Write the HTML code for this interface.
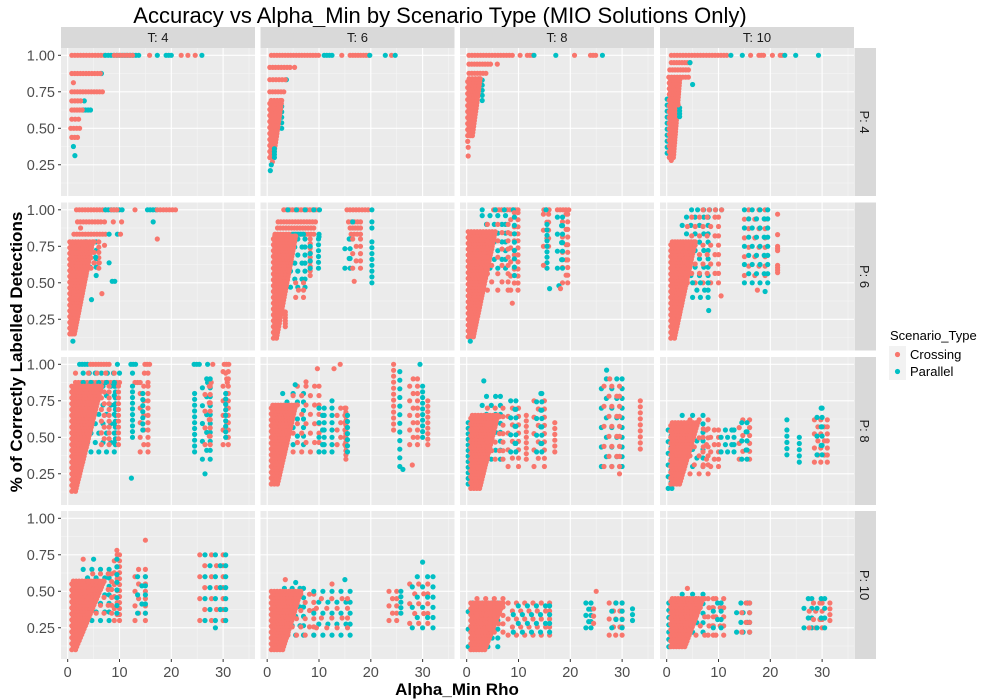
<!DOCTYPE html>
<html><head><meta charset="utf-8"><style>
html,body{margin:0;padding:0;background:#fff;}
svg{display:block;font-family:"Liberation Sans",Arial,sans-serif;}
</style></head><body>
<svg id="chart" width="1000" height="700" viewBox="0 0 1000 700" xmlns="http://www.w3.org/2000/svg">
<rect width="1000" height="700" fill="#fff"/>
<text x="440" y="23" font-size="22" text-anchor="middle" fill="#000">Accuracy vs Alpha_Min by Scenario Type (MIO Solutions Only)</text>
<text transform="translate(22,352) rotate(-90)" font-size="17" font-weight="bold" text-anchor="middle" fill="#000">% of Correctly Labelled Detections</text>
<text x="457" y="695" font-size="17" font-weight="bold" text-anchor="middle" fill="#000">Alpha_Min Rho</text>
<g id="panels"></g>
<g>
<text x="890" y="340" font-size="13" fill="#000">Scenario_Type</text>
<g>
<rect x="889" y="346" width="17" height="17" fill="#F2F2F2"/>
<circle cx="897.5" cy="354.5" r="2.6" fill="#F8766D"/>
<text x="910" y="359" font-size="13" fill="#000">Crossing</text></g>
<g>
<rect x="889" y="363" width="17" height="17" fill="#F2F2F2"/>
<circle cx="897.5" cy="371.5" r="2.6" fill="#00BFC4"/>
<text x="910" y="376" font-size="13" fill="#000">Parallel</text></g>
</g>
</svg>
<script>
const colsT = [4, 6, 8, 10];
const rowsP = [4, 6, 8, 10];
const xTicks = [0, 10, 20, 30];
const xMinor = [5, 15, 25, 35];
const yTicks = [0.25, 0.5, 0.75, 1.0];
const yTickLabels = ["0.25", "0.50", "0.75", "1.00"];
const yMinor = [0.125, 0.375, 0.625, 0.875];
const seriesNames = ["Crossing", "Parallel"];
// entries: [x0, x1, y0, y1, seriesIndex, sparsity, x1AtBottom]
const p4t4 = [[0.8,7,1,1,0],[7.3,13.7,1,1,1],[9,12.5,1,1,0],[15.8,15.8,1,1,0],[17.3,17.3,1,1,1],[19,20,1,1,1],[21.9,21.9,1,1,0],[23.2,23.2,1,1,0],[24.6,24.6,1,1,0],[25.9,25.9,1,1,1],
[6.5,6.5,.875,.875,1],[0.8,6.3,.875,.875,0],[1.1,1.1,.8125,.8125,0],[0.8,6.7,.75,.75,0],[3.2,3.2,.6875,.6875,1],[0.8,2.5,.6875,.6875,0],[3,4.4,.625,.625,1],[0.8,2.8,.625,.625,0],[0.8,2.1,.5625,.5625,0],[0.6,2.3,.5,.5,0],[0.8,1.9,.4375,.4375,0],[1.1,1.1,.375,.375,1],[1.4,1.4,.3125,.3125,1]];
const p4t6 = [[0.8,9.9,1,1,0],[11,12.5,1,1,1],[14.4,14.4,1,1,0],[16,19.6,1,1,0],[19.8,19.8,1,1,1],[22.8,22.8,1,1,1],[24,24,1,1,0],[24.7,24.7,1,1,1],
[0.5,4.4,.917,.917,0],[5.3,5.3,.917,.917,0],[3.7,3.7,.833,.833,1],[0.5,3.5,.833,.833,0],[0.5,3.2,.75,.75,0],[2.8,2.8,.5,.65,1,2],[0.5,2.8,.3,.69,0,1,1.2],[1.4,1.4,.3,.36,1],[1,1,.27,.27,0],[0.8,0.8,.25,.25,1],[0.6,0.6,.21,.21,1]];
const p4t8 = [[0.45,8.8,1,1,0],[10.3,10.3,1,1,0],[11.7,12.7,1,1,0],[13,13,1,1,1],[17.2,17.2,1,1,1],[20.8,20.8,1,1,0],[23.9,24.9,1,1,0],[26.2,26.2,1,1,1],
[0.45,4.6,.94,.94,0],[5.9,5.9,.94,.94,0],[0.45,3.7,.877,.877,0],[3,3,.69,.83,1,2],[0.2,2.6,.45,.84,0,1,1.1],[0.2,0.2,.41,.41,0],[0.3,0.3,.31,.31,0],[0.3,0.3,.37,.37,0]];
const p4t10 = [[0.9,11.6,1,1,0],[12.4,12.4,1,1,1],[14.6,14.6,1,1,1],[16.2,16.2,1,1,0],[17.8,18.7,1,1,0],[20.4,20.4,1,1,0],[21.9,22.3,1,1,0],[22.8,22.8,1,1,1],[24.9,24.9,1,1,1],[29.3,29.3,1,1,1],
[0.9,4.5,.95,.95,0],[4.5,4.5,.95,.95,1],[0.6,4.2,.9,.9,0],[0.4,4.2,.85,.85,0],[5,5,.8,.8,1],[0.1,0.3,.33,.7,1,2],[0.5,2.5,.3,.83,0,1,1.3],[2.5,2.5,.58,.64,1],[2.2,2.2,.66,.66,0],[0.9,0.9,.28,.28,0]];
const p6t4 = [[1.7,7.3,1,1,0],[7.3,10.5,1,1,1],[8.5,9.5,1,1,0],[13,13,1,1,0],[15.4,17,1,1,1],[17.3,20.8,1,1,0],
[1.9,6.4,.917,.917,0],[7.1,7.1,.917,.917,0],[8.8,8.8,.917,.917,0],[10.4,10.4,.917,.917,0],[16.5,16.5,.917,.917,1],[2.5,2.5,.875,.875,0],
[1.2,7.3,.833,.833,0],[8,8,.833,.833,1],[9.6,9.6,.833,.833,1],[10.2,10.2,.833,.833,0],[17.3,17.3,.80,.80,0],
[3.5,5.5,.55,.78,1,3],[0.4,4.8,.15,.78,0,1,1.3],[1,1,.1,.1,1],[4.5,6,.6,.78,0,2],
[7.1,7.1,.757,.757,0],[8,8,.637,.637,1],[6.1,6.1,.637,.637,0],[8.6,9.1,.51,.51,1],[6.6,6.6,.426,.426,0],[4.6,4.6,.385,.385,1],[5.4,5.4,.675,.675,1]];
const p6t6 = [[3.2,9.9,1,1,0],[4,9,1,1,1,3],[10.1,10.1,1,1,1],[15.4,19.5,1,1,0],[20.2,20.2,1,1,1],
[2.1,9.3,.917,.917,0],[15.7,18,.917,.917,0],[16.5,16.5,.917,.917,1],[20.2,20.2,.917,.917,1],
[2,9,.875,.875,0],[16,18,.875,.875,0],[20.2,20.2,.875,.875,1],
[1.5,9,.833,.833,0],[5,7,.833,.833,1],[10,10,.815,.833,1],[16.2,18,.833,.833,0],
[4.5,7.3,.47,.8,1,3],[1.2,5.5,.12,.82,0,1,1.8],[8.3,8.3,.55,.8,0,1.5],[8.3,8.3,.6,.75,1,3],[9.9,9.9,.6,.8,1,2],
[15,16,.6,.8,1,3],[16.5,18,.6,.8,0,2.5],[20.2,20.2,.5,.78,1,2],[16.8,16.8,.51,.51,0],[5.5,7,.4,.5,0,2],[3.5,3.5,.2,.3,0]];
const p6t8 = [[3,3,1,1,1],[5.2,9.9,1,1,0],[5.5,9,1,1,1,3],[14.9,15.9,1,1,0],[15.3,15.3,1,1,1],[17.5,19.7,1,1,0],
[3,7.5,.6,.96,1,3],[0.3,5.5,.13,.85,0,1,1.3],[0.7,0.7,.1,.1,1],[4,8,.45,.9,0,3],
[8.5,9.9,.45,.98,0,2.5],[9.2,9.9,.55,.95,1,3],[8.8,8.8,.36,.36,0],
[14.8,15.8,.75,.97,0,2.5],[15.5,15.5,.6,.9,1,2],[14.8,14.8,.62,.62,0],[16,16,.46,.46,1],
[18.5,19.5,.5,.97,0,2.5],[17.5,18.5,.6,.95,1,3],[17.8,17.8,.48,.48,1],[18.1,18.1,.46,.46,0]];
const p6t10 = [[4.8,10.6,1,1,1,2],[7,10.6,1,1,0,2],
[3,8,.55,.95,1,3],[0.8,5.5,.12,.78,0,1,1.5],[4,10,.5,.95,0,3],[5,8,.4,.5,1,3],
[15,19,.55,1,0,3],[15,19.5,.5,1,1,3],[21.4,21.4,.97,.97,0],[21.4,21.4,.83,.83,0],[21.4,21.4,.72,.75,0],[21.4,21.4,.57,.62,0],
[10.5,10.5,.41,.41,0],[8.1,8.1,.31,.31,1],[17.5,17.5,.45,.45,0],[19,19,.44,.44,1]];
const p8t4 = [[2.3,3.8,1,1,1],[4.4,8,1,1,0],[9.6,9.6,1,1,1],[12.2,13.1,1,1,1],[14.9,15.8,1,1,0],[24.4,25.4,1,1,1],[27,27,1,1,1],[28,28,1,1,0],[30.2,31.1,1,1,0],
[1.5,1.5,.94,.94,0],[3,10,.94,.94,1,2],[4,9,.94,.94,0,3],[12.5,12.5,.94,.94,1],[14.8,15.5,.94,.94,0],[30.5,30.5,.94,.94,0],
[1.5,10,.875,.875,0],[3,9,.875,.875,1,3],[13,14,.875,.875,0],[15.5,15.5,.875,.875,0],[27,27,.875,.875,1],[27.7,27.7,.875,.875,0],[30.8,30.8,.875,.875,0],
[3,9,.4,.85,1,3],[0.8,6.5,.13,.85,0,1,1.5],[6.5,8,.45,.85,0,2],
[9.2,9.2,.45,.85,1,2],[9.8,9.8,.45,.85,0,2],[12.5,12.5,.5,.85,1,2],[12.3,12.3,.22,.22,1],[14,15.5,.4,.85,0,2.5],[14.5,14.5,.55,.8,1,2],
[24.5,24.5,.4,.8,1,2],[26,27.5,.35,.9,1,3],[26.5,27.5,.45,.85,0,3],[30,31,.45,.95,0,2.5],[30.5,30.5,.5,.8,1,2],[26.5,26.5,.25,.25,1]];
const p8t6 = [[3,7,.45,.8,1,3],[0.8,5.5,.18,.72,0,1,2],[5,10,.4,.85,0,3],
[10,11,.4,.7,1,2.5],[12.5,13,.4,.75,1,2.5],[13.5,15,.45,.7,0,2.5],[15.2,15.2,.35,.7,0,1.5],[15.5,15.5,.4,.65,1,2],
[9.7,9.7,.97,.97,0],[12.9,12.9,.97,.97,0],[14.1,14.1,1,1,0],[5.4,5.4,.86,.86,1],[7.5,7.5,.88,.88,0],
[24.4,24.4,.55,1,0,2],[25.6,26.2,.3,.95,1,3],[27.5,29,.45,.9,0,2.5],[30,30,.5,.85,1,2],[31,31,.45,.75,0,2],[26.2,26.2,.28,.28,1],[28,28,.31,.31,0],[29.5,29.5,1,1,1]];
const p8t8 = [[0.3,0.8,.18,.6,1,2],[3,6.5,.35,.78,1,3],[0.8,6,.15,.65,0,1,2.5],[4,7,.35,.7,0,3],
[8,10,.3,.7,0,3],[8.5,9.5,.4,.75,1,3],[11.5,11.5,.35,.65,0,2],[13,15,.3,.75,0,3],[13.5,14.5,.4,.8,1,3],[17,17,.4,.6,0,2],
[26,30,.3,.9,1,3.5],[26.5,29.5,.3,.85,0,3.5],[33.5,33.5,.42,.75,0,2],[3.3,3.3,.886,.886,1],[27,27,.96,.96,1],[27.6,27.6,.9,.9,0],[29.5,29.5,.25,.25,0]];
const p8t10 = [[0.3,1,.15,.55,1,2],[3,7,.3,.65,1,3],[0.8,6,.18,.6,0,1,2.5],[4.5,8,.25,.62,0,3],
[7,10,.3,.55,0,2.5],[10.5,13,.4,.55,1,3],[14,16,.35,.62,0,2.5],[14.5,15.5,.35,.6,1,3],
[23.2,23.2,.38,.55,1,2],[23.2,23.2,.62,.62,1],[25.6,25.6,.33,.5,1,2],[28.5,31,.33,.62,0,2.5],[29,30,.38,.7,1,3]];
const p10t4 = [[3,8,.3,.65,1,3],[0.8,7,.1,.57,0,1,1.5],[4,8.5,.35,.62,0,3],
[9,10,.3,.75,0,2],[9.5,10,.35,.72,1,2.5],[13,15,.3,.65,0,2.5],[13.5,15,.35,.6,1,3],[15,15,.85,.85,0],[9.5,9.5,.78,.78,0],
[25.5,30,.3,.75,0,3.5],[26.5,30.5,.3,.75,1,3.5],[3,3,.72,.72,0],[5,5,.72,.72,1],[28.5,28.5,.25,.25,1]];
const p10t6 = [[2.5,7,.2,.52,1,3],[0.8,6.5,.1,.5,0,1,3],[4,9,.2,.48,0,3],
[9,16,.2,.5,1,3.5],[9.5,15.5,.25,.45,0,3.5],[3.5,3.5,.58,.58,0],[5.5,5.5,.56,.56,1],[12.5,12.5,.55,.55,0],[15,15,.58,.58,1],
[23.5,25,.3,.5,0,2.5],[25.8,25.8,.35,.5,1,2],[27.5,31,.28,.55,0,3.5],[28,32,.25,.6,1,3.5],[30,30,.7,.7,1]];
const p10t8 = [[0.3,6,.12,.42,1,3],[0.8,7,.1,.42,0,1,3.5],[2,7,.22,.45,0,3],
[8,16,.2,.42,0,3],[9,16,.22,.4,1,3.5],[23,24,.25,.42,1,2],[25,25,.5,.5,0],[24.5,24.5,.28,.38,0,2],[27.5,30,.2,.42,0,3],[28,30,.25,.42,1,3],[32,32,.3,.38,1,2]];
const p10t10 = [[0.4,1,.12,.42,1,2.5],[3,7,.22,.48,1,3],[0.8,7,.12,.45,0,1,3.5],[4,9,.2,.45,0,3],
[8,11,.2,.45,0,3],[9,10.5,.25,.42,1,3],[13.5,16,.22,.42,1,3],[14.5,16,.22,.42,0,3],
[26.5,28,.25,.45,1,3],[27.5,30,.25,.42,0,3],[29,30.5,.25,.45,1,3],[31.5,32,.3,.42,0,2],[4,4,.52,.52,0]];
const panelData = [[p4t4,p4t6,p4t8,p4t10],[p6t4,p6t6,p6t8,p6t10],[p8t4,p8t6,p8t8,p8t10],[p10t4,p10t6,p10t8,p10t10]];

const NS = "http://www.w3.org/2000/svg";
const colors = ["#F8766D", "#00BFC4"];
const colLeft = [61, 260.5, 460, 660], panelW = 194;
const rowTop = [48, 202.5, 357, 511], panelH = 148;
const xMin = -1.29, xMax = 36.15, yMin = 0.036, yMax = 1.05;
const g = document.getElementById('panels');
function mk(tag, attrs, parent) { const e = document.createElementNS(NS, tag); for (const k in attrs) e.setAttribute(k, attrs[k]); parent.appendChild(e); return e; }
function sx(c, v) { return colLeft[c] + (v - xMin) / (xMax - xMin) * panelW; }
function sy(r, v) { return rowTop[r] + (yMax - v) / (yMax - yMin) * panelH; }

colsT.forEach((t, c) => {
  const s = mk('g', {}, g);
  
  
  mk('rect', { x: colLeft[c], y: 27, width: panelW, height: 21, fill: '#D9D9D9' }, s);
  const tx = mk('text', { x: colLeft[c] + panelW / 2, y: 42, 'font-size': 13, 'text-anchor': 'middle', fill: '#1A1A1A' }, s);
  tx.textContent = 'T: ' + t;
});
rowsP.forEach((p, r) => {
  const s = mk('g', {}, g);
  
  
  mk('rect', { x: 854.5, y: rowTop[r], width: 21.5, height: panelH, fill: '#D9D9D9' }, s);
  const tx = mk('text', { transform: `translate(860,${rowTop[r] + panelH / 2}) rotate(90)`, 'font-size': 13, 'text-anchor': 'middle', fill: '#1A1A1A' }, s);
  tx.textContent = 'P: ' + p;
});

for (let r = 0; r < 4; r++) for (let c = 0; c < 4; c++) {
  const pg = mk('g', {}, g);
  
  
  mk('rect', { x: colLeft[c], y: rowTop[r], width: panelW, height: panelH, fill: '#EBEBEB' }, pg);
  xMinor.forEach(v => { const x = sx(c, v); if (x < colLeft[c] + panelW) mk('line', { x1: x, x2: x, y1: rowTop[r], y2: rowTop[r] + panelH, stroke: '#F5F5F5', 'stroke-width': 0.6 }, pg); });
  yMinor.forEach(v => { const y = sy(r, v); mk('line', { x1: colLeft[c], x2: colLeft[c] + panelW, y1: y, y2: y, stroke: '#F5F5F5', 'stroke-width': 0.6 }, pg); });
  xTicks.forEach(v => { const x = sx(c, v); mk('line', { x1: x, x2: x, y1: rowTop[r], y2: rowTop[r] + panelH, stroke: '#FFFFFF', 'stroke-width': 1.1 }, pg); });
  yTicks.forEach(v => { const y = sy(r, v); mk('line', { x1: colLeft[c], x2: colLeft[c] + panelW, y1: y, y2: y, stroke: '#FFFFFF', 'stroke-width': 1.1 }, pg); });
  const pts = mk('g', {}, pg);
  
  
  panelData[r][c].forEach(e => {
    const [x0, x1, y0, y1, s] = e; const k = e[5] || 1;
    const xb = (e[6] !== undefined) ? e[6] : x1;
    const dx = 0.55 * k, dy = 0.02 * k;
    const ny = Math.max(0, Math.round((y1 - y0) / dy));
    for (let j = 0; j <= ny; j++) {
      const f = ny ? j / ny : 1;
      const yv = ny ? y0 + (y1 - y0) * f : y0;
      const xe = xb + (x1 - xb) * f;
      const nx = Math.max(0, Math.round((xe - x0) / dx));
      const off = (ny && (j % 2)) ? dx * 0.5 : 0;
      for (let i = 0; i <= nx; i++) {
        let xv = nx ? x0 + (xe - x0) * i / nx : x0;
        if (i < nx) xv += off;
        const ci = mk('circle', { cx: sx(c, xv).toFixed(1), cy: sy(r, yv).toFixed(1), r: 2.6, fill: colors[s] }, pts);
        
        
      }
    }
  });
}
for (let r = 0; r < 4; r++) {
  yTicks.forEach((v, i) => {
    const y = sy(r, v);
    mk('line', { x1: 58, x2: 61, y1: y, y2: y, stroke: '#333', 'stroke-width': 1 }, g);
    const t = mk('text', { x: 55, y: y + 5, 'font-size': 14.5, 'text-anchor': 'end', fill: '#4D4D4D' }, g);
    
    
    t.textContent = yTickLabels[i];
  });
}
for (let c = 0; c < 4; c++) {
  xTicks.forEach(v => {
    const x = sx(c, v);
    mk('line', { x1: x, x2: x, y1: 659, y2: 662, stroke: '#333', 'stroke-width': 1 }, g);
    const t = mk('text', { x: x, y: 677, 'font-size': 14.5, 'text-anchor': 'middle', fill: '#4D4D4D' }, g);
    
    
    t.textContent = String(v);
  });
}
</script>
</body></html>
